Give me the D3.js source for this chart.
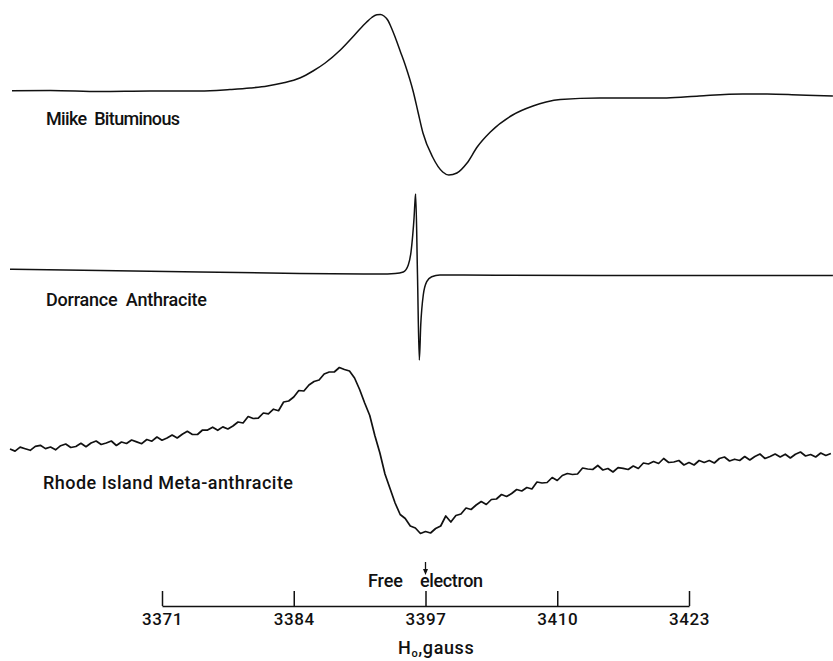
<!DOCTYPE html>
<html>
<head>
<meta charset="utf-8">
<script src="https://cdn.jsdelivr.net/npm/d3@7"></script>
<style>
  body { margin: 0; background: #fff; }
  svg { display: block; }
  text { font-family: Roboto, "Liberation Sans", sans-serif; font-weight: 500; fill: #111; }
</style>
</head>
<body>
<svg id="chart" width="833" height="661"></svg>
<script>
// EPR derivative spectra, field in gauss, signal in arbitrary units (relative to each trace's baseline)
const tickFields = [3371, 3384, 3397, 3410, 3423];
const freeElectronField = 3397;

const sampleNames = ['Miike  Bituminous', 'Dorrance  Anthracite', 'Rhode Island Meta-anthracite'];

// Miike Bituminous: [field, signal]
const miike = [
  [3356.2, 1.3], [3360.0, 1.5], [3364.9, 0.5], [3369.8, 1], [3374.75, 1],
  [3377.7, 2.5], [3379.7, 4], [3381.4, 6], [3382.9, 9], [3384.6, 14],
  [3385.9, 21], [3387.1, 29], [3388.6, 42], [3390.0, 57], [3391.2, 70],
  [3391.7, 74.5], [3392.2, 77.2], [3392.55, 77.5], [3392.9, 76], [3393.3, 71.5],
  [3393.6, 65], [3394.0, 55], [3394.5, 41], [3395.0, 27], [3395.8, 0],
  [3396.26, -20], [3396.75, -41], [3397.7, -65], [3398.7, -80], [3399.3, -83],
  [3400.1, -81], [3401.1, -71], [3402.1, -55], [3403.4, -40], [3405.6, -23],
  [3407.6, -14], [3408.9, -10], [3410.3, -7.5], [3414.2, -6], [3420.8, -6],
  [3424.0, -4], [3428.3, -2], [3430.7, -2], [3433.9, -3], [3437.2, -4]
];

// Dorrance Anthracite: [field, signal]
const dorrance = [
  [3356.0, 3.7], [3364.9, 2.5], [3374.75, 1], [3384.6, -0.5], [3392.5, -1],
  [3394.0, -0.5], [3394.81, 1], [3395.30, 8], [3395.57, 21], [3395.74, 38],
  [3395.87, 55], [3395.96, 71], [3396.03, 79], [3396.21, -2], [3396.39, -87],
  [3396.53, -52], [3396.78, -22], [3397.12, -8.7], [3397.61, -3.7], [3398.43, -2],
  [3414.2, -2.5], [3437.2, -2.5]
];

// Rhode Island Meta-anthracite: noisy trace, sampled every 0.5 G from 3356 G
const rhodeStart = 3356;
const rhodeStep = 0.5;
const rhodeSignal = [
  1, -1.1, 2.9, 1.3, -0.3, 3.6, 4.7, 1.4, 3, 0.2,
  4.3, 6, 2.5, 3.5, 6.7, 3.3, 7, 9, 5.5, 7,
  9, 4.5, 8, 6.5, 10, 8.1, 6.3, 10.5, 8.8, 13,
  9.8, 12, 15, 12, 15.8, 18.7, 15.6, 15.5, 20, 19.9,
  22.8, 19.7, 23.1, 21, 24, 28, 27, 33.5, 31.5, 31.8,
  37, 36.2, 40.8, 39.3, 48, 49, 53, 59.5, 59, 65,
  68.5, 70, 76, 78, 78, 82.5, 80.5, 79, 72, 60.5,
  47, 34.5, 14.5, -3, -24, -38.5, -53, -64.5, -68.5, -76,
  -78, -83.5, -81.5, -83, -78.5, -76, -66, -72, -65.5, -64,
  -58, -59.5, -55, -51.5, -54.5, -49.5, -49, -44.5, -46.5, -43.5,
  -39.5, -41, -37.5, -39, -32, -33, -32.5, -27.5, -30.5, -25.5,
  -23.5, -24.5, -24, -18, -19, -19.5, -15.5, -20, -18.5, -22,
  -17.7, -18.3, -19.5, -16, -18.5, -13, -14, -11.5, -13.5, -8.5,
  -12.5, -12, -10.5, -15, -12.5, -15, -10.5, -12.5, -10.5, -13,
  -8.5, -7, -11, -9.2, -10.5, -6.5, -10, -6.5, -4, -8.5,
  -6.5, -4, -7, -4.2, -8, -4.2, -2, -6, -4.5, -7,
  -3, -5.5, -3.5
];

const svg = d3.select('#chart');

const x = d3.scaleLinear()
  .domain([3371, 3423])
  .range([162, 689]);

// each trace gets its own vertical band
function bandScale(base) {
  return d3.scaleLinear().domain([-100, 100]).range([base + 100, base - 100]);
}

const rhode = rhodeSignal.map((v, i) => [rhodeStart + i * rhodeStep, v]);

const traces = [
  { data: miike, y: bandScale(92), width: 1.5, curve: d3.curveMonotoneX, label: sampleNames[0], lx: 46, ly: 125, lw: 134 },
  { data: dorrance, y: bandScale(273), width: 1.5, curve: d3.curveMonotoneX, label: sampleNames[1], lx: 46, ly: 306, lw: 161 },
  { data: rhode, y: bandScale(450), width: 1.7, curve: d3.curveLinear, label: sampleNames[2], lx: 43, ly: 489, lw: 250 }
];

traces.forEach(t => {
  const line = d3.line()
    .x(d => x(d[0]))
    .y(d => t.y(d[1]))
    .curve(t.curve);

  svg.append('path')
    .datum(t.data)
    .attr('d', line)
    .attr('fill', 'none')
    .attr('stroke', '#111')
    .attr('stroke-width', t.width)
    .attr('stroke-linejoin', 'round');

  svg.append('text')
    .attr('x', t.lx)
    .attr('y', t.ly)
    .attr('font-size', 18)
    .attr('textLength', t.lw)
    .attr('lengthAdjust', 'spacing')
    .style('white-space', 'pre')
    .text(t.label);
});

// field axis: ticks point up, labels below
const axisY = 606;
const axis = d3.axisBottom(x)
  .tickValues(tickFields)
  .tickFormat(d3.format('d'))
  .tickSizeInner(-15)
  .tickSizeOuter(0)
  .tickPadding(19);

const gAxis = svg.append('g')
  .attr('transform', `translate(0,${axisY})`)
  .call(axis);

gAxis.select('.domain').attr('stroke', '#111').attr('stroke-width', 1.5);
gAxis.selectAll('.tick line').attr('stroke', '#111').attr('stroke-width', 1.5);
gAxis.selectAll('.tick text')
  .attr('font-size', 17)
  .attr('font-family', 'Roboto, "Liberation Sans", sans-serif')
  .attr('font-weight', 500)
  .attr('fill', '#111')
  .attr('letter-spacing', 0.6)
  .attr('dy', 0);

// free electron marker
const fx = x(freeElectronField);
svg.append('line')
  .attr('x1', fx).attr('x2', fx)
  .attr('y1', 562).attr('y2', 570)
  .attr('stroke', '#111').attr('stroke-width', 1.3);
svg.append('path')
  .attr('d', `M${fx - 2.5},${569} L${fx + 2.5},${569} L${fx},${575} Z`)
  .attr('fill', '#111');

svg.append('text')
  .attr('x', 368).attr('y', 587)
  .attr('font-size', 18)
  .attr('textLength', 35)
  .attr('lengthAdjust', 'spacing')
  .text('Free');
svg.append('text')
  .attr('x', 420).attr('y', 587)
  .attr('font-size', 18)
  .attr('textLength', 63)
  .attr('lengthAdjust', 'spacing')
  .text('electron');

// axis title  H0, gauss
const title = svg.append('text')
  .attr('x', 398)
  .attr('y', 654)
  .attr('font-size', 18)
  .attr('letter-spacing', 0.6);
title.append('tspan').text('H');
title.append('tspan').attr('font-size', 11).attr('dy', 3).text('o');
title.append('tspan').attr('dy', -3).text(',gauss');
</script>
</body>
</html>
